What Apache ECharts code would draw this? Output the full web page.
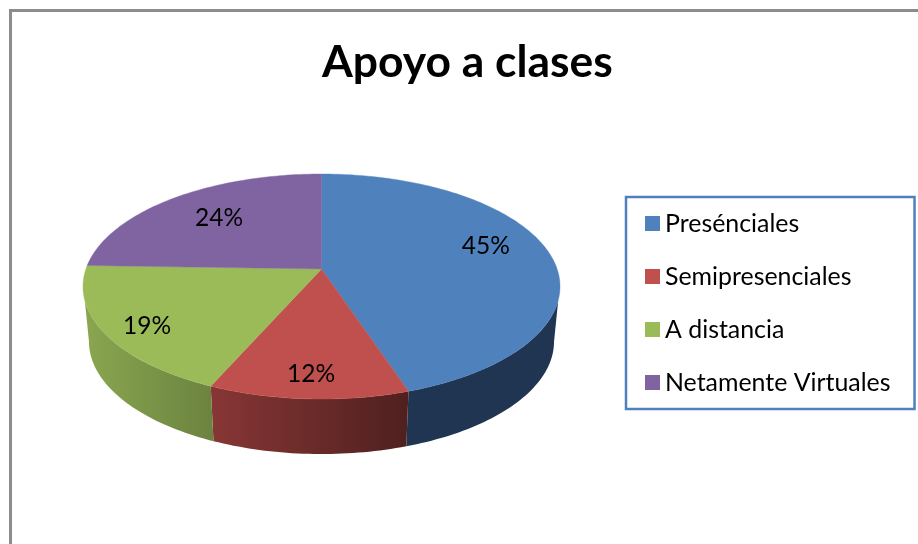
<!DOCTYPE html>
<html>
<head>
<meta charset="utf-8">
<style>html,body{margin:0;padding:0;background:#fff}#c{width:918px;height:544px}</style>
<script src="https://cdn.jsdelivr.net/npm/echarts@6/dist/echarts.min.js"></script>
</head>
<body>
<div id="c"></div>
<script>
const titleText = 'Apoyo a clases';
const categories = ['Presénciales', 'Semipresenciales', 'A distancia', 'Netamente Virtuales'];
const shares = [44.9, 11.7, 18.9, 24.49];
const topColors = ['#4f81bd', '#c0504d', '#9bbb59', '#8064a2'];
const sideLeft = ['#1f3552', '#873635', '#8aa650', '#5a4672'];
const sideRight = ['#1f3552', '#4f201f', '#6b8340', '#5a4672'];
const labelShift = [[-7, -10], [-1, 12], [-15, 10], [11, 4]];

const FONT = 'Lato, "Open Sans", sans-serif';
const CX = 321.5, CY = 269, RX = 235.6, RY = 109.8, PERSP = 0.1556, DEPTH = 55, NARROW = 0.975;
const total = shares.reduce((a, b) => a + b, 0);
const starts = shares.map((_, i) => shares.slice(0, i).reduce((a, b) => a + b, 0));

function project(deg, r) {
  const t = deg * Math.PI / 180, u = Math.sin(t) * r, v = -Math.cos(t) * r;
  const w = 1 - PERSP * v;
  return [CX + RX * u / w, CY + RY * v / w];
}
function arc(a, b) {
  const pts = [], n = Math.max(2, Math.ceil((b - a) / 1.2));
  for (let i = 0; i <= n; i++) pts.push(project(a + (b - a) * i / n, 1));
  return pts;
}
function renderSlice(params, api) {
  const i = params.seriesIndex;
  const a = api.value(1) / total * 360, b = a + api.value(0) / total * 360;
  const children = [];
  const ua = Math.max(a, 105.8), ub = Math.min(b, 254.2);
  const la = Math.max(a, 99), lb = Math.min(b, 261);
  if (lb > la && ub > ua) {
    const front = arc(ua, ub);
    const lower = arc(la, lb).reverse().map(p => [CX + (p[0] - CX) * NARROW, p[1] + DEPTH]);
    children.push({
      type: 'polygon', z2: 1,
      shape: { points: front.concat(lower) },
      style: {
        fill: { type: 'linear', x: 0, y: 0, x2: 1, y2: 0,
          colorStops: [{ offset: 0, color: sideLeft[i] }, { offset: 1, color: sideRight[i] }] }
      }
    });
  }
  children.push({
    type: 'polygon', z2: 2,
    shape: { points: [[CX, CY]].concat(arc(a, b)) },
    style: { fill: topColors[i], stroke: topColors[i], lineWidth: 0.4 }
  });
  const mid = project((a + b) / 2, 0.75);
  children.push({
    type: 'text', z2: 3,
    x: mid[0] + labelShift[i][0], y: mid[1] + labelShift[i][1],
    style: {
      text: Math.round(api.value(0)) + '%', fill: '#000',
      font: '24.5px ' + FONT, align: 'center', verticalAlign: 'middle'
    }
  });
  return { type: 'group', children };
}

const chart = echarts.init(document.getElementById('c'), null, { renderer: 'canvas' });
chart.setOption({
  animation: false,
  backgroundColor: '#fff',
  color: topColors,
  title: {
    text: titleText, left: 317, top: 36,
    textStyle: { fontFamily: FONT, fontSize: 44.4, fontWeight: 'bold', color: '#000' }
  },
  legend: {
    orient: 'vertical', left: 626, top: 197, data: categories,
    selectedMode: false, icon: 'rect', itemWidth: 15, itemHeight: 15, itemGap: 28,
    padding: [14, 24, 14, 19], borderColor: '#4f81bd', borderWidth: 2.5,
    textStyle: { fontFamily: FONT, fontSize: 24.9, color: '#000' }
  },
  graphic: [{
    type: 'polyline', silent: true, z: 0,
    shape: { points: [[10.5, 560], [10.5, 10.5], [930, 10.5]] },
    style: { stroke: '#8c8c8c', lineWidth: 3, fill: 'none' }
  }],
  series: categories.map((name, i) => ({
    type: 'custom', name, coordinateSystem: 'none', silent: true,
    itemStyle: { color: topColors[i] },
    renderItem: renderSlice,
    data: [[shares[i], starts[i]]]
  }))
});
</script>
</body>
</html>
